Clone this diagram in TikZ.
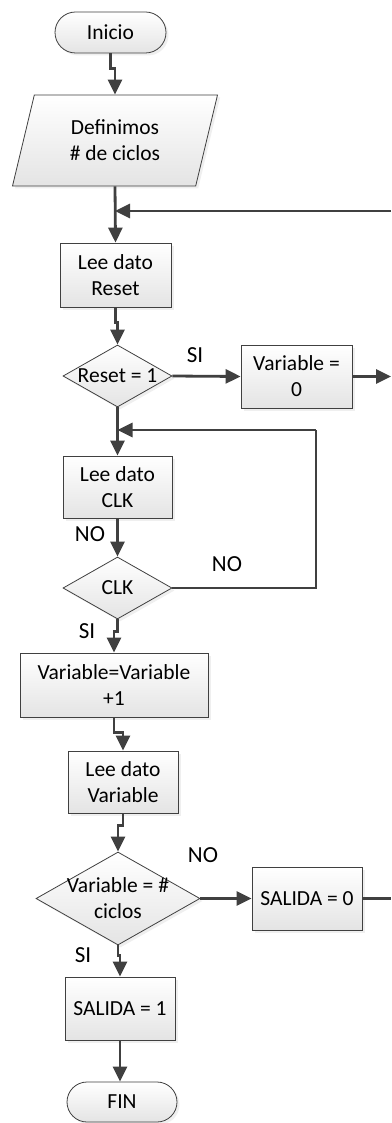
\documentclass[tikz,border=0pt]{standalone}
\usepackage{fontspec}
\setmainfont{Carlito}
\usepackage{xcolor}
\usepackage{tikz}
\usetikzlibrary{positioning,arrows.meta,shapes.geometric,shapes.misc,shadows}
\definecolor{linegray}{HTML}{404040}
\definecolor{fillgray}{HTML}{E4E4E4}

\begin{document}
\begin{tikzpicture}[x=1pt, y=-1pt,
  base/.style={draw=linegray, line width=0.8pt, top color=white, bottom color=fillgray, drop shadow={shadow xshift=2.5pt, shadow yshift=-2.5pt, fill=black!12}, font=\fontsize{21.5}{26}\selectfont, align=center, inner sep=0pt},
  box/.style={base, rectangle, minimum width=111pt, minimum height=63pt},
  term/.style={base, rounded rectangle, minimum width=111pt, minimum height=41pt},
  io/.style={base, trapezium, trapezium left angle=62, trapezium right angle=118, trapezium stretches body, minimum width=205pt, minimum height=91pt},
  dec/.style={base, diamond, inner xsep=-25pt, inner ysep=-8pt, minimum width=109pt, minimum height=62pt},
  arrow/.style={-{Triangle[length=15pt,width=14pt]}, line width=2.8pt, draw=linegray},
  line/.style={line width=2.8pt, draw=linegray},
  lbl/.style={font=\fontsize{23}{28}\selectfont, inner sep=0pt}
]
\path[use as bounding box, fill=white] (0,0) rectangle (391,1123);
\node[term] (inicio) at (110.5,32.5) {Inicio};
\node[io] (ciclos) at (115,140.5) {Definimos\\\# de ciclos};
\node[box, minimum height=64pt] (leerst) at (115.5,275) {Lee dato\\Reset};
\node[dec] (rst) at (117.5,376) {Reset = 1};
\node[box] (var0) at (296.5,376.5) {Variable =\\0};
\node[box, minimum width=109pt, minimum height=62pt] (leeclk) at (117.5,487) {Lee dato\\CLK};
\node[dec] (clk) at (117.5,588) {CLK};
\node[box, minimum width=188pt, minimum height=64pt] (inc) at (114,685) {Variable=Variable\\+1};
\node[box, minimum width=110pt, minimum height=62pt] (leevar) at (123,782) {Lee dato\\Variable};
\node[dec, minimum width=164pt, minimum height=93pt] (cmp) at (118,898.5) {Variable = \#\\ciclos};
\node[box, minimum width=110pt] (sal0) at (307,898.5) {SALIDA = 0};
\node[box, minimum width=110pt] (sal1) at (120,1008.5) {SALIDA = 1};
\node[term, minimum width=110pt, minimum height=40pt] (fin) at (122,1102) {FIN};
\coordinate (back) at (391,211);
\coordinate (out1) at (391,376.5);
\coordinate (loop) at (316,430);
\coordinate (out2) at (391,898.5);
\node[lbl] (si1) at (195,355) {SI};
\node[lbl] (no1) at (90,534) {NO};
\node[lbl] (no2) at (227,564) {NO};
\node[lbl] (si2) at (87,631) {SI};
\node[lbl] (no3) at (203,855) {NO};
\node[lbl] (si3) at (83,955) {SI};
\draw[arrow] (inicio.south) -- ++(0,15) -| (ciclos.north);
\draw[arrow] (ciclos.south) -- (leerst.north);
\draw[arrow] (back) -- (back -| ciclos.south);
\draw[arrow] (leerst.south) -- ++(0,15) -| (rst.north);
\draw[arrow] (rst.east) -- (var0.west);
\draw[arrow] (var0.east) -- (out1);
\draw[arrow] (rst.south) -- (leeclk.north);
\draw[line] (clk.east) -| (loop);
\draw[arrow] (loop) -- (loop -| rst.south);
\draw[arrow] (leeclk.south) -- (clk.north);
\draw[arrow] (clk.south) -- ++(0,12) -| (inc.north);
\draw[arrow] (inc.south) -- ++(0,15) -| (leevar.north);
\draw[arrow] (leevar.south) -- ++(0,12) -| (cmp.north);
\draw[arrow] (cmp.east) -- (sal0.west);
\draw[line] (sal0.east) -- (out2);
\draw[arrow] (cmp.south) -- ++(0,10) -| (sal1.north);
\draw[arrow] (sal1.south) -- (sal1.south |- fin.north);
\end{tikzpicture}
\end{document}
